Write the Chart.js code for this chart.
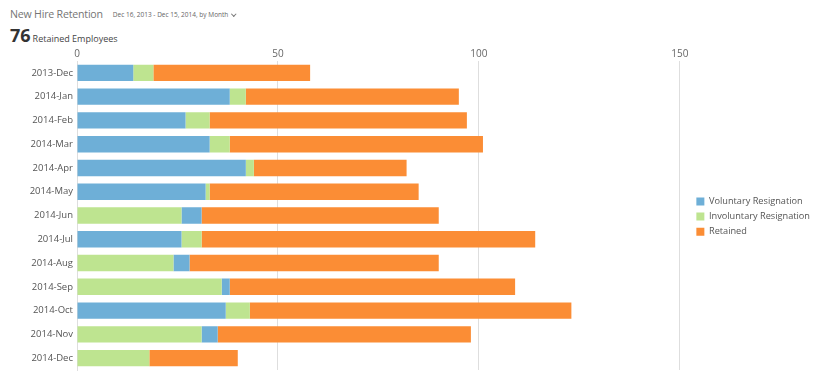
<!DOCTYPE html>
<html>
<head>
<meta charset="utf-8">
<script src="https://cdn.jsdelivr.net/npm/chart.js@4/dist/chart.umd.min.js"></script>
<style>
  html,body{margin:0;padding:0;background:#fff;font-family:'Open Sans',sans-serif;}
  #page{position:relative;width:820px;height:382px;overflow:hidden;}
  .title{position:absolute;left:10px;top:7px;font-size:10.6px;letter-spacing:-0.2px;color:#757575;white-space:nowrap;}
  .range{font-size:6.5px;letter-spacing:0;color:#666;margin-left:10px;vertical-align:1px;}
  .chev{display:inline-block;width:2.5px;height:2.5px;border-right:1px solid #777;border-bottom:1px solid #777;transform:rotate(45deg);margin-left:4px;vertical-align:2px;}
  .kpi{position:absolute;left:10px;top:23px;white-space:nowrap;}
  .kpi b{font-size:18px;color:#333;font-weight:700;}
  .kpi span{font-size:9px;color:#444;margin-left:2px;}
  #wrap{position:absolute;left:0;top:47px;width:820px;height:335px;}
</style>
</head>
<body>
<div id="page">
  <div class="title">New Hire Retention<span class="range">Dec 16, 2013 - Dec 15, 2014, by Month<i class="chev"></i></span></div>
  <div class="kpi"><b>76</b><span>Retained Employees</span></div>
  <div id="wrap"><canvas id="chart"></canvas></div>
</div>
<script>
  const months=['2013-Dec','2014-Jan','2014-Feb','2014-Mar','2014-Apr','2014-May','2014-Jun','2014-Jul','2014-Aug','2014-Sep','2014-Oct','2014-Nov','2014-Dec'];
  const voluntary=[14,38,27,33,42,32,5,26,4,2,37,4,0];
  const involuntary=[5,4,6,5,2,1,26,5,24,36,6,31,18];
  const retained=[39,53,64,63,38,52,59,83,62,71,80,63,22];
  // rows where the involuntary segment is drawn before the voluntary one
  const involuntaryFirst=[false,false,false,false,false,false,true,false,true,true,false,true,true];
  const xTicks=[0,50,100,150];
  const xMax=152.6;

  const BLUE='#6eafd7',GREEN='#bee490',ORANGE='#fb8d35';

  const volLead=voluntary.map((v,i)=>involuntaryFirst[i]?0:v);
  const volTail=voluntary.map((v,i)=>involuntaryFirst[i]?v:0);

  const barBase={stack:'s',barPercentage:0.69,categoryPercentage:1,borderWidth:0};

  new Chart(document.getElementById('chart'),{
    type:'bar',
    data:{
      labels:months,
      datasets:[
        {...barBase,label:'Voluntary Resignation',data:volLead,backgroundColor:BLUE},
        {...barBase,label:'Involuntary Resignation',data:involuntary,backgroundColor:GREEN},
        {...barBase,label:'Voluntary Resignation (tail)',data:volTail,backgroundColor:BLUE},
        {...barBase,label:'Retained',data:retained,backgroundColor:ORANGE}
      ]
    },
    options:{
      indexAxis:'y',
      responsive:true,
      maintainAspectRatio:false,
      animation:false,
      layout:{padding:{left:0,right:0,top:0,bottom:12}},
      plugins:{
        tooltip:{enabled:false},
        legend:{
          position:'right',
          align:'center',
          title:{display:true,text:'',font:{size:1},padding:{top:15,bottom:0}},
          labels:{
            color:'#555',
            font:{family:'Open Sans',size:9.2},
            boxWidth:8,
            boxHeight:8,
            padding:6,
            filter:item=>item.datasetIndex!==2
          }
        }
      },
      scales:{
        x:{
          position:'top',
          stacked:true,
          min:0,
          max:xMax,
          afterBuildTicks:axis=>{axis.ticks=xTicks.map(v=>({value:v}));},
          grid:{color:'#dedede',lineWidth:1,drawTicks:false},
          border:{display:false},
          ticks:{color:'#666',font:{family:'Open Sans',size:10},padding:1}
        },
        y:{
          stacked:true,
          grid:{display:false,drawTicks:false},
          border:{display:true,color:'#dedede'},
          afterFit:axis=>{axis.width=77;},
          ticks:{color:'#555',font:{family:'Open Sans',size:9.5},padding:4}
        }
      }
    }
  });
</script>
</body>
</html>
